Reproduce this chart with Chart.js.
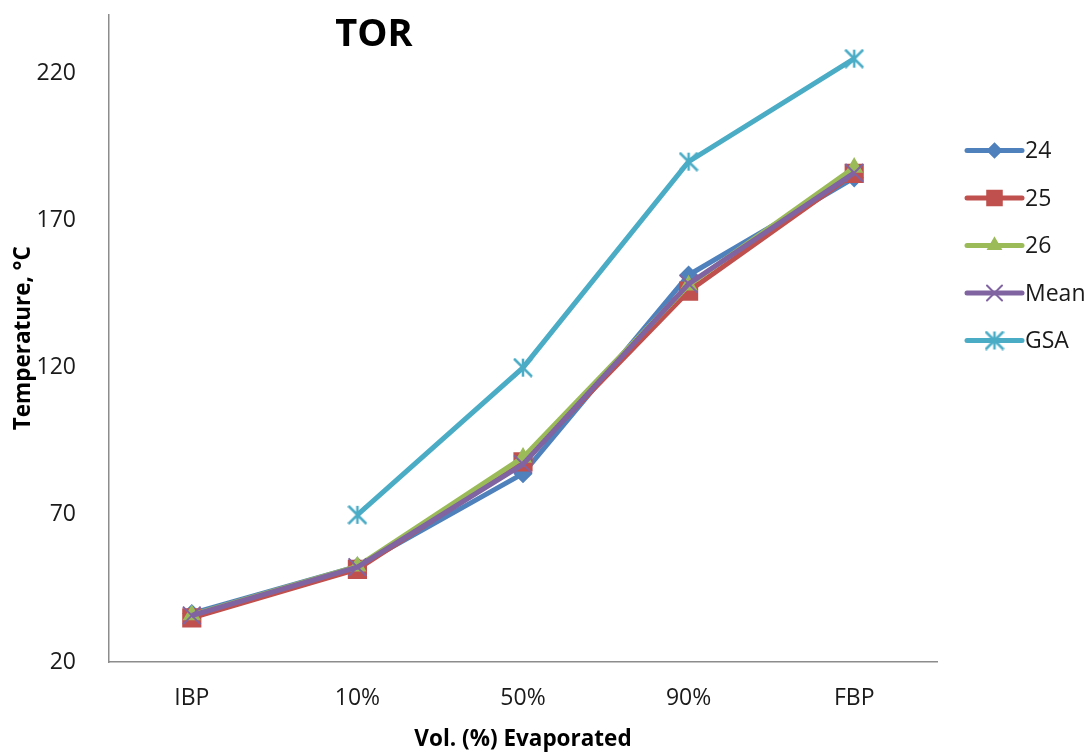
<!DOCTYPE html>
<html>
<head>
<meta charset="utf-8">
<script src="https://cdn.jsdelivr.net/npm/chart.js@4.4.1/dist/chart.umd.min.js"></script>
<style>
  html, body { margin: 0; padding: 0; background: #ffffff; }
  #wrap { position: relative; width: 1091px; height: 753px; }
</style>
</head>
<body>
<div id="wrap"><canvas id="chart" width="1091" height="753"></canvas></div>
<script>
// Distillation temperatures (°C) by volume evaporated
const categories = ['IBP', '10%', '50%', '90%', 'FBP'];
const s24  = [36.5, 52.5, 84.0, 151.5, 184.5];
const s25  = [35.0, 51.5, 88.0, 146.0, 186.0];
const s26  = [36.0, 52.5, 89.5, 148.0, 188.0];
const sMean = [35.8, 52.2, 87.2, 148.5, 186.2];
const sGSA = [null, 70, 120, 190, 225];
const yTicks = [20, 70, 120, 170, 220];

const FONT = "'Open Sans', 'DejaVu Sans', sans-serif";
const TEXT = '#1a1a1a';

// Asterisk marker: an X with a vertical stroke
function asteriskMarker(size, color, lw) {
  const c = document.createElement('canvas');
  c.width = size; c.height = size;
  const g = c.getContext('2d');
  g.strokeStyle = color; g.lineWidth = lw;
  const m = size / 2, r = size / 2 - 1;
  g.beginPath();
  g.moveTo(m, m - r); g.lineTo(m, m + r);
  g.moveTo(m - r, m - r); g.lineTo(m + r, m + r);
  g.moveTo(m + r, m - r); g.lineTo(m - r, m + r);
  g.stroke();
  return c;
}

function series(label, data, color, style, radius, order, bw) {
  return {
    label, data, order,
    borderColor: color, backgroundColor: color,
    borderWidth: 5,
    pointStyle: style, pointRadius: radius, pointHoverRadius: radius,
    pointBackgroundColor: color, pointBorderColor: color,
    pointBorderWidth: bw,
    tension: 0, fill: false
  };
}

const datasets = [
  series('24', s24, '#4F81BD', 'rectRot', 8.5, 5, 1.5),
  series('25', s25, '#C0504D', 'rect', 12.5, 4, 1.5),
  series('26', s26, '#9BBB59', 'triangle', 9, 3, 1.5),
  series('Mean', sMean, '#8064A2', 'crossRot', 12.5, 2, 2),
  series('GSA', sGSA, '#4BACC6', asteriskMarker(20, '#4BACC6', 2.5), 10, 1, 0)
];

// Legend on the right: line segment with marker, then label
const sideLegend = {
  id: 'sideLegend',
  afterDraw(chart, _args, o) {
    const { ctx, chartArea } = chart;
    chart.data.datasets.forEach((ds, i) => {
      const y = chartArea.top + o.top + i * o.spacing;
      const x0 = chartArea.right + o.gap;
      ctx.save();
      ctx.strokeStyle = ds.borderColor;
      ctx.lineWidth = ds.borderWidth;
      ctx.lineCap = 'round';
      ctx.beginPath();
      ctx.moveTo(x0, y);
      ctx.lineTo(x0 + o.lineLen, y);
      ctx.stroke();
      ctx.fillStyle = ds.pointBackgroundColor;
      ctx.strokeStyle = ds.pointBorderColor;
      ctx.lineWidth = ds.pointBorderWidth;
      Chart.helpers.drawPoint(ctx, {
        pointStyle: ds.pointStyle,
        radius: typeof ds.pointStyle === 'string' ? ds.pointRadius * 0.85 : ds.pointRadius,
        rotation: 0,
        borderWidth: ds.pointBorderWidth
      }, x0 + o.lineLen / 2, y);
      ctx.fillStyle = TEXT;
      ctx.font = o.font;
      ctx.textAlign = 'left';
      ctx.textBaseline = 'middle';
      ctx.fillText(ds.label, x0 + o.lineLen + o.textGap, y + 1);
      ctx.restore();
    });
  }
};

// Chart heading drawn inside the plot area
const heading = {
  id: 'heading',
  afterDraw(chart, _args, o) {
    const { ctx, chartArea } = chart;
    ctx.save();
    ctx.fillStyle = '#000';
    ctx.font = o.font;
    ctx.textAlign = 'center';
    ctx.textBaseline = 'alphabetic';
    ctx.fillText(o.text, chartArea.left + o.relX * (chartArea.right - chartArea.left), chartArea.top + o.baseline);
    ctx.restore();
  }
};

new Chart(document.getElementById('chart'), {
  type: 'line',
  data: { labels: categories, datasets },
  plugins: [sideLegend, heading],
  options: {
    responsive: false,
    animation: false,
    layout: { padding: { top: 10, right: 154, bottom: 0, left: 0 } },
    plugins: {
      legend: { display: false },
      tooltip: { enabled: false },
      sideLegend: { top: 136, spacing: 47.5, gap: 30, lineLen: 55, textGap: 3, font: `23px ${FONT}` },
      heading: { text: 'TOR', font: `bold 38px ${FONT}`, relX: 0.32, baseline: 31 }
    },
    scales: {
      x: {
        offset: true,
        grid: { display: false },
        border: { display: true, color: '#8c8c8c', width: 1.5 },
        ticks: { color: TEXT, font: { family: FONT, size: 23 }, padding: 15 },
        title: {
          display: true, text: 'Vol. (%) Evaporated', color: '#000',
          font: { family: FONT, size: 22.5, weight: 'bold' }, padding: { top: 2, bottom: 0 }
        },
        afterFit(s) { s.height = 91; s.paddingLeft = 0; s.paddingRight = 0; }
      },
      y: {
        min: 20, max: 240,
        grid: { display: false },
        border: { display: true, color: '#8c8c8c', width: 1.5 },
        afterBuildTicks(s) { s.ticks = yTicks.map(v => ({ value: v })); },
        ticks: { color: TEXT, font: { family: FONT, size: 23 }, padding: 25 },
        title: {
          display: true, text: 'Temperature, °C', color: '#000',
          font: { family: FONT, size: 22.5, weight: 'bold' }, padding: { top: 10, bottom: 0 }
        },
        afterFit(s) { s.width = 109; s.paddingTop = 0; s.paddingBottom = 0; }
      }
    }
  }
});
</script>
</body>
</html>
